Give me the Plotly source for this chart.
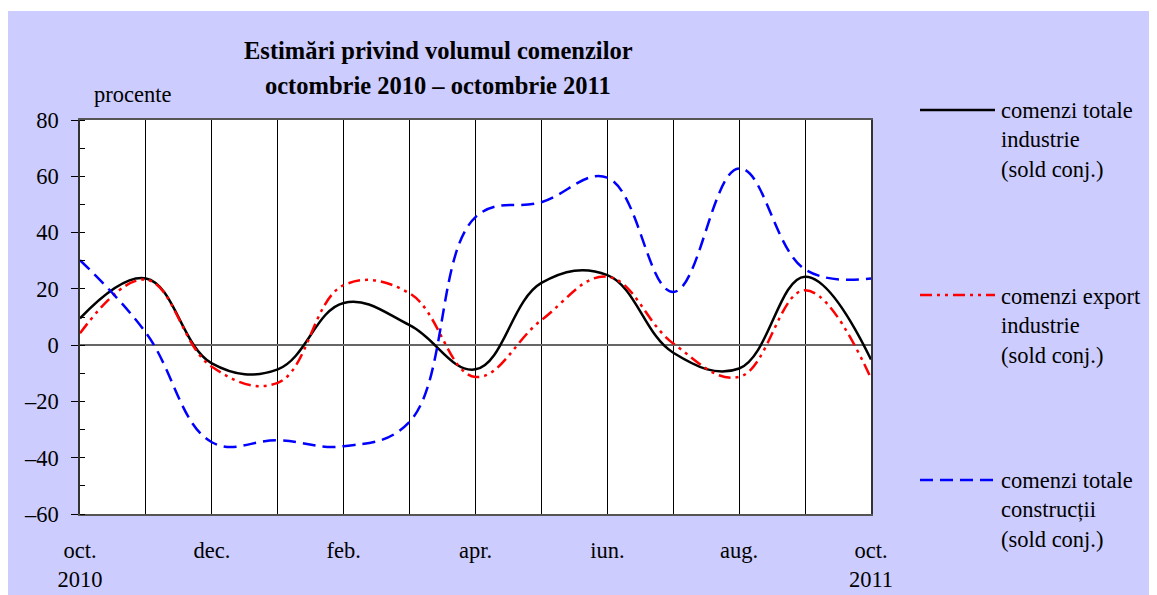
import plotly.graph_objects as go

# ---- data ----
months = ["oct. 2010", "nov.", "dec.", "ian.", "feb.", "mar.", "apr.", "mai",
          "iun.", "iul.", "aug.", "sep.", "oct. 2011"]
tick_text = ["oct.<br>2010", "", "dec.", "", "feb.", "", "apr.", "", "iun.", "",
             "aug.", "", "oct.<br>2011"]
industrie_total = [9.5, 23.7, -6.5, -8.6, 15.0, 7.1, -8.6, 22.1, 24.9, -2.7, -8.3, 24.3, -5.1]
industrie_export = [4.2, 23.3, -7.7, -13.4, 21.3, 18.4, -11.3, 8.9, 24.3, 0.6, -11.3, 19.5, -11.8]
constructii_total = [30.2, 4.4, -34.5, -33.8, -35.9, -27.2, 45.5, 50.8, 59.5, 18.9, 62.8, 26.9, 23.7]

series_names = ["comenzi totale<br>industrie<br>(sold conj.)",
                "comenzi export<br>industrie<br>(sold conj.)",
                "comenzi totale<br>construcții<br>(sold conj.)"]
y_ticks = [80, 60, 40, 20, 0, -20, -40, -60]
y_tick_text = ["80", "60", "40", "20", "0", "\u201320", "\u201340", "\u201360"]

FONT = "Liberation Serif"
FS = 22.5
colors = ["#000000", "#FF0000", "#0000FF"]
dashes = ["solid", "12px,5px,3px,5px,3px,5px", "13px,7px"]
values = [industrie_total, industrie_export, constructii_total]

x = list(range(len(months)))
fig = go.Figure()
for vals, c, d, n in zip(values, colors, dashes, series_names):
    fig.add_trace(go.Scatter(
        x=x, y=vals, mode="lines", name=n,
        line=dict(color=c, width=2.5, dash=d, shape="spline", smoothing=1.15),
        showlegend=False, hoverinfo="skip"))

# page offset of the figure (browser body margin)
OFF = 8
W, H = 1157 - OFF, 595 - OFF
# plot area in page pixels: x 80..871, y 120..514
L, T = 80 - OFF, 120 - OFF
R = W - (871 - OFF)
B = H - (514 - OFF)
pw, ph = W - L - R, H - T - B

def px_x(p):
    return (p - OFF - L) / pw

def px_y(p):
    return (H - B - (p - OFF)) / ph

shapes = []
# thin white strip at the very top (reference lavender starts at y=11)
shapes.append(dict(type="rect", xref="paper", yref="paper", layer="below",
                   x0=px_x(0), x1=px_x(1200), y0=px_y(11), y1=px_y(0),
                   fillcolor="white", line=dict(width=0)))

annotations = [
    dict(text="<b>Estimări privind volumul comenzilor</b>", x=px_x(438), y=px_y(50),
         xref="paper", yref="paper", xanchor="center", yanchor="middle", showarrow=False,
         font=dict(family=FONT, size=24.5, color="black")),
    dict(text="<b>octombrie 2010 – octombrie 2011</b>", x=px_x(438), y=px_y(85),
         xref="paper", yref="paper", xanchor="center", yanchor="middle", showarrow=False,
         font=dict(family=FONT, size=24.5, color="black")),
    dict(text="procente", x=px_x(132), y=px_y(95), xref="paper", yref="paper",
         xanchor="center", yanchor="middle", showarrow=False,
         font=dict(family=FONT, size=FS, color="black")),
]

# manual legend
leg_line_y = [110, 295, 480]
leg_text_y = [140, 326, 510]
for c, d, n, ly, ty in zip(colors, dashes, series_names, leg_line_y, leg_text_y):
    shapes.append(dict(type="line", xref="paper", yref="paper",
                       x0=px_x(920), x1=px_x(995), y0=px_y(ly), y1=px_y(ly),
                       line=dict(color=c, width=2.5, dash=d)))
    annotations.append(dict(text=n, x=px_x(999), y=px_y(ty), xref="paper", yref="paper",
                            xanchor="left", yanchor="middle", align="left", showarrow=False,
                            font=dict(family=FONT, size=FS, color="black")))

fig.update_layout(
    width=W, height=H,
    margin=dict(l=L, r=R, t=T, b=B, pad=0, autoexpand=False),
    paper_bgcolor="#CCCCFF",
    plot_bgcolor="white",
    font=dict(family=FONT, size=FS, color="black"),
    shapes=shapes,
    annotations=annotations,
)
fig.update_xaxes(
    range=[0, 12], tickvals=x, ticktext=tick_text, showgrid=True, gridcolor="#000000",
    gridwidth=1, ticks="", showline=True, linecolor="#555555", linewidth=1.5, mirror=True,
    zeroline=False, ticklabelstandoff=15, tickfont=dict(family=FONT, size=FS),
    automargin=False,
)
fig.update_yaxes(
    range=[-60, 80], tickvals=y_ticks, ticktext=y_tick_text, showgrid=False,
    zeroline=True, zerolinecolor="#666666", zerolinewidth=1.5,
    showline=True, linecolor="#333333", linewidth=1.5, mirror=True,
    ticks="outside", ticklen=7, tickcolor="black", tickwidth=1.2,
    minor=dict(dtick=10, tick0=0, ticks="inside", ticklen=5, tickcolor="black"),
    ticklabelstandoff=8, tickfont=dict(family=FONT, size=FS),
    automargin=False,
)

fig.write_html("out.html")
